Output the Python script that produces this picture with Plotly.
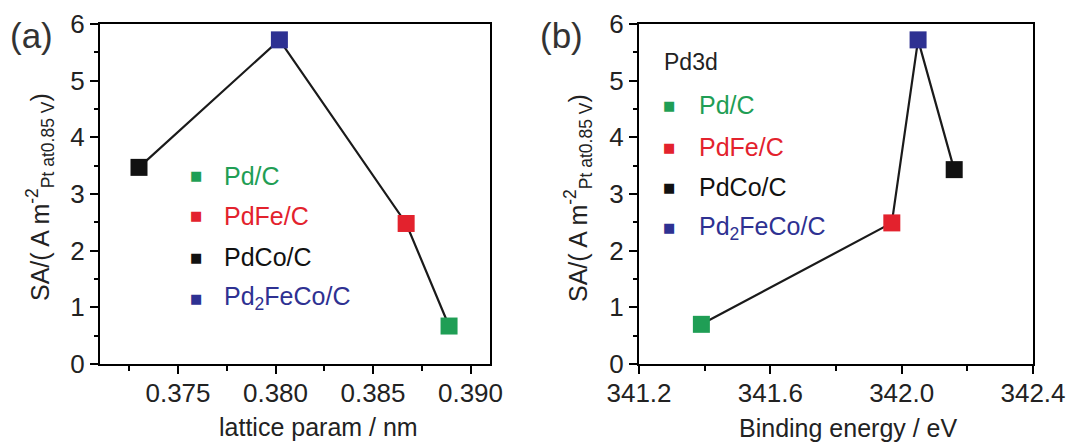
import plotly.graph_objects as go

W, H = 1067, 445

samples = ["Pd/C", "PdFe/C", "PdCo/C", "Pd2FeCo/C"]
sample_labels = ["Pd/C", "PdFe/C", "PdCo/C", "Pd<sub>2</sub>FeCo/C"]
colors = ["#1f9e55", "#e3222d", "#111111", "#2e3192"]

lattice_nm = [0.3889, 0.3867, 0.3730, 0.3802]
sa_a = [0.67, 2.48, 3.47, 5.72]

binding_eV = [341.39, 341.97, 342.16, 342.05]
sa_b = [0.70, 2.49, 3.43, 5.72]

FONT = "Liberation Sans, Arial, sans-serif"

def px(x):
    return x / W

def py(y):
    return 1 - y / H

fig = go.Figure()

def add_panel(xs, ys, xa, ya):
    order = sorted(range(len(xs)), key=lambda i: xs[i])
    fig.add_trace(go.Scatter(
        x=[xs[i] for i in order], y=[ys[i] for i in order],
        mode="lines", line=dict(color="#1a1a1a", width=2.2),
        xaxis=xa, yaxis=ya, showlegend=False, hoverinfo="skip"))
    for i, name in enumerate(samples):
        fig.add_trace(go.Scatter(
            x=[xs[i]], y=[ys[i]], mode="markers", name=name,
            marker=dict(symbol="square", size=17, color=colors[i],
                        line=dict(width=0)),
            xaxis=xa, yaxis=ya, showlegend=False))

add_panel(lattice_nm, sa_a, "x", "y")
add_panel(binding_eV, sa_b, "x2", "y2")

ytitle = "SA/( A m<sup>-2</sup><sub>Pt at0.85 V</sub>)"

axis_common = dict(
    showline=True, linecolor="black", linewidth=2, mirror=True,
    ticks="outside", ticklen=8, tickwidth=2, tickcolor="black",
    showgrid=False, zeroline=False, automargin=False,
    tickfont=dict(family=FONT, size=26, color="#222"),
)

y_dom = [py(364), py(24)]
tfont = dict(family=FONT, size=25, color="#222")
minor_x = dict(ticklen=5, tickwidth=2, tickcolor="black", ticks="outside")
minor_y = dict(dtick=0.5, ticklen=4, tickwidth=2, tickcolor="black", ticks="outside")

fig.update_layout(
    width=W, height=H,
    margin=dict(l=0, r=0, t=0, b=0),
    paper_bgcolor="white", plot_bgcolor="white",
    showlegend=False,
    xaxis=dict(domain=[px(100), px(490)], range=[0.371, 0.391],
               tickvals=[0.375, 0.380, 0.385, 0.390], ticktext=["0.375", "0.380", "0.385", "0.390"],
               minor=dict(tickvals=[0.3725, 0.3775, 0.3825, 0.3875], **minor_x),
               ticklabelstandoff=-3, anchor="y", **axis_common),
    yaxis=dict(domain=y_dom, range=[0, 6], dtick=1, minor=minor_y,
               anchor="x", **axis_common),
    xaxis2=dict(domain=[px(639), px(1033)], range=[341.2, 342.4],
                tickvals=[341.2, 341.6, 342.0, 342.4], ticktext=["341.2", "341.6", "342.0", "342.4"],
                minor=dict(tickvals=[341.4, 341.8, 342.2], **minor_x),
                ticklabelstandoff=-3, anchor="y2", **axis_common),
    yaxis2=dict(domain=y_dom, range=[0, 6], dtick=1, minor=minor_y,
                anchor="x2", **axis_common),
)

annotations = []
def ann(text, x, y, font, xanchor="center", textangle=0):
    annotations.append(dict(text=text, x=px(x), y=py(y), xref="paper", yref="paper",
                            xanchor=xanchor, yanchor="middle", showarrow=False,
                            textangle=textangle, font=font))

big = dict(family=FONT, size=35, color="#333")
ann("(a)", 8, 36, big, xanchor="left")
ann("(b)", 538, 36, big, xanchor="left")
ann("Pd3d", 662, 62, dict(family=FONT, size=23, color="#222"), xanchor="left")

ann("lattice param / nm", 318, 427, tfont)
ann("Binding energy / eV", 848, 428, tfont)
ann(ytitle, 40, 197, tfont, textangle=-90)
ann(ytitle, 578, 198, tfont, textangle=-90)

def legend(mx, tx, rows):
    for i, lab in enumerate(sample_labels):
        ann("■", mx, rows[i], dict(family="DejaVu Sans", size=13, color=colors[i]))
        ann(lab, tx, rows[i], dict(family=FONT, size=25, color=colors[i]), xanchor="left")

legend(196, 222, [176, 216, 257, 298])
legend(669, 697, [105, 147, 187, 228])

fig.update_layout(annotations=annotations)

fig.write_html("out.html", config={"displayModeBar": False},
               post_script="document.body.style.margin='0';")
